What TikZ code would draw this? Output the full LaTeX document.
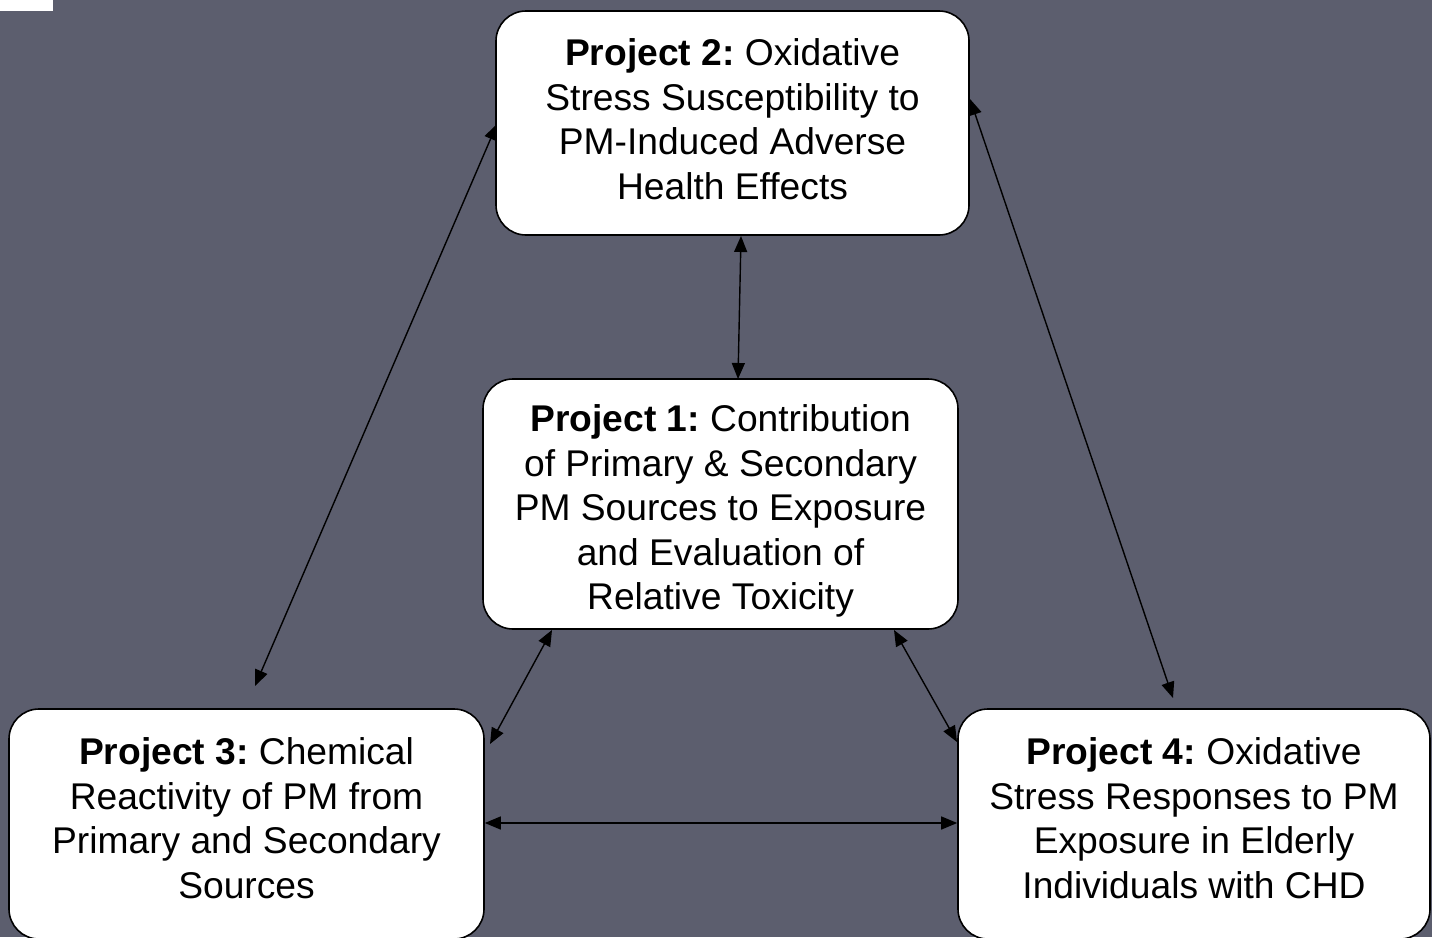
\documentclass[tikz,border=0pt]{standalone}
\usepackage{fontspec}
\setmainfont{Liberation Sans}
\usetikzlibrary{arrows.meta}
\definecolor{bg}{HTML}{5C5E6E}
\begin{document}
\frenchspacing
\begin{tikzpicture}[x=1pt,y=-1pt,
  box/.style={draw=black,line width=1.6pt,fill=white,rounded corners=30pt,inner sep=0pt},
  label/.style={align=center,font=\fontsize{37.2}{44.5}\selectfont,inner sep=0pt},
  link/.style={line width=1.4pt,{Triangle[length=16pt,width=13pt]}-{Triangle[length=16pt,width=13pt]}}]
\fill[bg] (0,0) rectangle (1432,937);
\useasboundingbox (0,0) rectangle (1432,937);
\fill[white] (0,0) rectangle (53,11);
\node[box,minimum width=473pt,minimum height=224pt] (p2) at (732.5,123) {};
\node[label] (p2t) at (732.5,119) {\textbf{Project 2:} Oxidative\\Stress Susceptibility to\\PM-Induced Adverse\\Health Effects};
\node[box,minimum width=475pt,minimum height=250pt] (p1) at (720.5,504) {};
\node[label] (p1t) at (720.5,511) {\textbf{Project 1:} Contribution\\of Primary \& Secondary\\PM Sources to Exposure\\and Evaluation of\\Relative Toxicity};
\node[box,minimum width=475pt,minimum height=230pt] (p3) at (246.5,824) {};
\node[label] (p3t) at (246.5,818) {\textbf{Project 3:} Chemical\\Reactivity of PM from\\Primary and Secondary\\Sources};
\node[box,minimum width=472pt,minimum height=230pt] (p4) at (1194,824) {};
\node[label] (p4t) at (1194,818) {\textbf{Project 4:} Oxidative\\Stress Responses to PM\\Exposure in Elderly\\Individuals with CHD};
\coordinate (a1) at (741,236);
\coordinate (a2) at (738,379);
\draw[link] (a1) -- (a2);
\coordinate (l1) at (255,686);
\coordinate (l2) at (497,124);
\draw[link] (l1) -- (l2);
\coordinate (r1) at (970,99);
\coordinate (r2) at (1173,698);
\draw[link] (r1) -- (r2);
\coordinate (b1) at (552,630);
\coordinate (b2) at (490,744);
\draw[link] (b1) -- (b2);
\coordinate (c1) at (894,630);
\coordinate (c2) at (957,742);
\draw[link] (c1) -- (c2);
\draw[link] (p3.east |- 0,823) -- (p4.west |- 0,823);
\end{tikzpicture}
\end{document}
